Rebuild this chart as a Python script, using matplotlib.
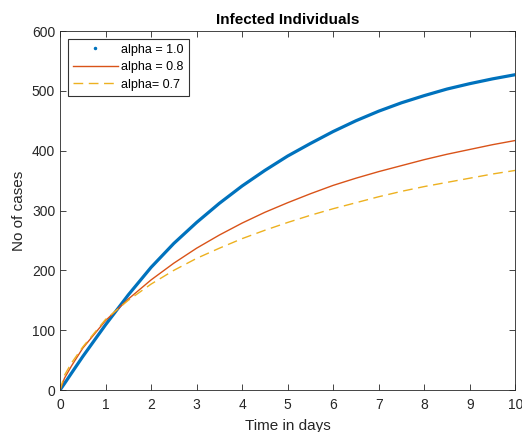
import matplotlib.pyplot as plt
from matplotlib.lines import Line2D

plt.rcParams['font.family'] = ['Liberation Sans', 'DejaVu Sans']

# values
t = [0, 0.1, 0.25, 0.5, 1, 1.5, 2, 2.5, 3, 3.5, 4, 4.5, 5, 5.5, 6, 6.5, 7, 7.5, 8, 8.5, 9, 9.5, 10]
alpha10 = [0, 11, 28, 56, 109, 159, 205, 245, 280, 312, 341, 367, 391, 412, 432, 450, 466, 480, 492, 503, 512, 520, 527]
alpha08 = [0, 20, 40, 70, 116, 152, 184, 212, 237, 259, 279, 297, 313, 328, 342, 354, 365, 375, 385, 394, 402, 410, 417]
alpha07 = [0, 25, 45, 72, 118, 150, 177, 200, 220, 237, 253, 267, 280, 292, 303, 313, 323, 332, 340, 347, 354, 361, 367]

c_blue = '#0072BD'
c_red = '#D95319'
c_yel = '#EDB120'

fig = plt.figure(figsize=(5.22, 4.32), dpi=100)
ax = fig.add_axes([0.115, 0.0972, 0.872, 0.831])

ax.plot(t, alpha10, color=c_blue, lw=2.3)
ax.plot(t, alpha08, color=c_red, lw=1.0, label='alpha = 0.8')
ax.plot(t, alpha07, color=c_yel, lw=1.0, ls=(0, (7, 4)), label='alpha= 0.7')

ax.set_xlim(0, 10)
ax.set_ylim(0, 600)
ax.set_xticks(range(0, 11))
ax.set_yticks(range(0, 601, 100))
ax.tick_params(direction='in', top=True, right=True, length=4, width=0.6,
               colors='#262626', labelsize=10)
ax.tick_params(axis='x', pad=6)
for s in ax.spines.values():
    s.set_color('#262626')
    s.set_linewidth(0.6)

ax.set_title('Infected Individuals', fontsize=11, fontweight='bold', pad=5)
ax.set_xlabel('Time in days', fontsize=11, color='#262626', labelpad=5)
ax.set_ylabel('No of cases', fontsize=11, color='#262626')

h_dot = Line2D([], [], color=c_blue, ls='none', marker='.', ms=3)
handles, labels = ax.get_legend_handles_labels()
leg = ax.legend([h_dot] + handles, ['alpha = 1.0'] + labels, loc='upper left',
                fontsize=9, frameon=True, fancybox=False, edgecolor='black',
                handlelength=3.6, handletextpad=0.3, borderaxespad=0.6,
                labelspacing=0.45)
leg.get_frame().set_linewidth(0.8)

fig.savefig('out.png', dpi=100)
